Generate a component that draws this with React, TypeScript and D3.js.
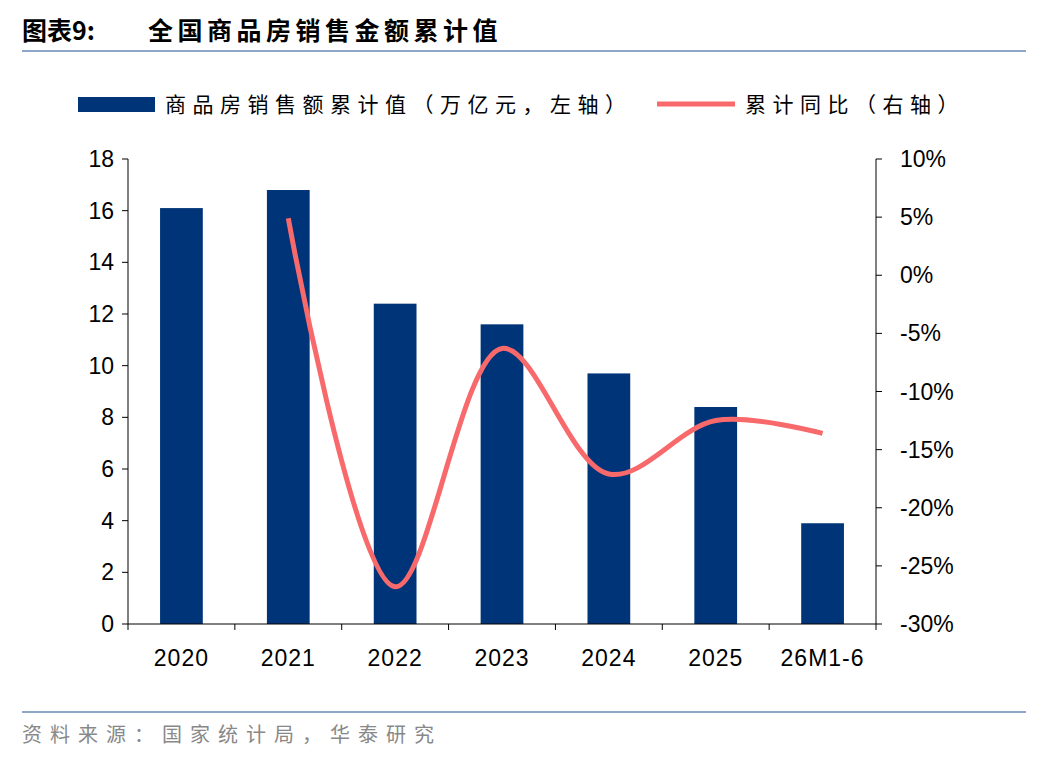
import * as d3 from "d3";

const categories = ["2020", "2021", "2022", "2023", "2024", "2025", "26M1-6"];
const salesValues = [16.1, 16.8, 12.4, 11.6, 9.7, 8.4, 3.9];
const yoyCategories = ["2021", "2022", "2023", "2024", "2025", "26M1-6"];
const yoyValues = [4.9, -26.8, -6.3, -17.1, -12.5, -13.6];
const leftTicks = [0, 2, 4, 6, 8, 10, 12, 14, 16, 18];
const rightTicks = [-30, -25, -20, -15, -10, -5, 0, 5, 10];

const W = 1048;
const H = 760;
const left = 128;
const right = 876;
const top = 159;
const bottom = 624;
const font = "Arial, 'Liberation Sans', 'Noto Sans CJK SC', sans-serif";
const cjk = "'Noto Sans CJK SC', sans-serif";

export default function App() {
  const x = d3.scaleBand().domain(categories).range([left, right]).paddingInner(0.6).paddingOuter(0.3);
  const yL = d3.scaleLinear().domain([0, 18]).range([bottom, top]);
  const yR = d3.scaleLinear().domain([-30, 10]).range([bottom, top]);
  const step = (right - left) / categories.length;
  const line = d3
    .line<number>()
    .x((_, i) => (x(yoyCategories[i]) ?? 0) + x.bandwidth() / 2)
    .y((d) => yR(d))
    .curve(d3.curveCatmullRom.alpha(0.5));

  return (
    <svg width={W} height={H} style={{ position: "absolute", left: 0, top: 0, background: "#fff" }}>
      <text x={22} y={40} fontFamily={cjk} fontWeight="bold" fontSize={25} fill="#000">
        图表9:
      </text>
      <text x={148} y={40} fontFamily={cjk} fontWeight="bold" fontSize={25} letterSpacing={4.5} fill="#000">
        全国商品房销售金额累计值
      </text>
      <line x1={22} x2={1026} y1={51} y2={51} stroke="#8ea9c8" strokeWidth={2} />

      {/* legend */}
      <rect x={78} y={97} width={77} height={15} fill="#003478" />
      <text x={165} y={112} fontFamily={cjk} fontSize={21} letterSpacing={6.5} fill="#000">商品房销售额累计值（万亿元，左轴）</text>
      <line x1={657} x2={735} y1={104} y2={104} stroke="#f8696b" strokeWidth={5} />
      <text x={745} y={112} fontFamily={cjk} fontSize={21} letterSpacing={6.5} fill="#000">累计同比（右轴）</text>

      {/* bars */}
      {categories.map((c, i) => (
        <rect key={c} x={x(c)} y={yL(salesValues[i])} width={x.bandwidth()} height={bottom - yL(salesValues[i])} fill="#003478" />
      ))}

      {/* left axis */}
      <line x1={left} x2={left} y1={top} y2={bottom} stroke="#000" />
      {leftTicks.map((t) => (
        <g key={t}>
          <line x1={left - 6} x2={left} y1={yL(t)} y2={yL(t)} stroke="#000" />
          <text x={left - 14} y={yL(t) + 8} textAnchor="end" fontFamily={font} fontSize={23}>{t}</text>
        </g>
      ))}

      {/* right axis */}
      <line x1={right} x2={right} y1={top} y2={bottom} stroke="#000" />
      {rightTicks.map((t) => (
        <g key={t}>
          <line x1={right} x2={right + 6} y1={yR(t)} y2={yR(t)} stroke="#000" />
          <text x={right + 24} y={yR(t) + 8} fontFamily={font} fontSize={23}>{t}%</text>
        </g>
      ))}

      {/* bottom axis */}
      <line x1={left} x2={right} y1={bottom} y2={bottom} stroke="#000" />
      {d3.range(categories.length + 1).map((i) => (
        <line key={i} x1={left + i * step} x2={left + i * step} y1={bottom} y2={bottom + 6} stroke="#000" />
      ))}
      {categories.map((c) => (
        <text key={c} x={(x(c) ?? 0) + x.bandwidth() / 2} y={666} textAnchor="middle" fontFamily={font} fontSize={23} letterSpacing={1}>{c}</text>
      ))}

      <path d={line(yoyValues) ?? ""} fill="none" stroke="#f8696b" strokeWidth={5} />

      <line x1={22} x2={1026} y1={712} y2={712} stroke="#8ea9c8" strokeWidth={2} />
      <text x={22} y={742} fontFamily={cjk} fontSize={20} letterSpacing={8} fill="#888">资料来源：国家统计局，华泰研究</text>
    </svg>
  );
}
